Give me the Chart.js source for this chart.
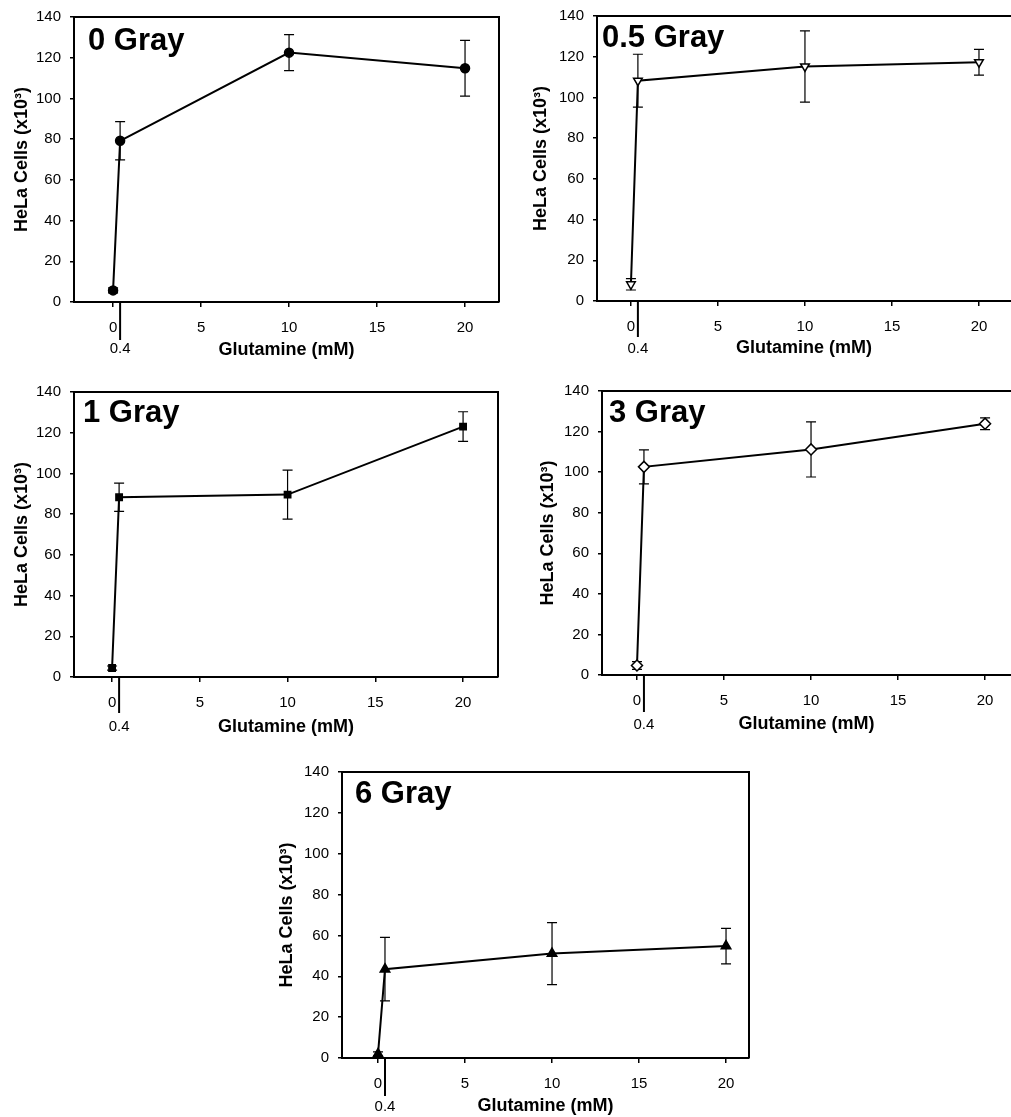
<!DOCTYPE html>
<html>
<head>
<meta charset="utf-8">
<script src="https://cdn.jsdelivr.net/npm/chart.js@4.4.1/dist/chart.umd.min.js"></script>
<style>
  html, body { margin: 0; padding: 0; background: #fff; }
  body { width: 1011px; height: 1117px; position: relative; overflow: hidden; }
  canvas { position: absolute; }
</style>
</head>
<body>
<canvas id="c1"></canvas>
<canvas id="c2"></canvas>
<canvas id="c3"></canvas>
<canvas id="c4"></canvas>
<canvas id="c5"></canvas>
<script>
// ---- data ----
const glutamine = [0, 0.4, 10, 20];
const xTickValues = [0, 5, 10, 15, 20];
const yTickValues = [0, 20, 40, 60, 80, 100, 120, 140];
const panelTitles = ['0 Gray', '0.5 Gray', '1 Gray', '3 Gray', '6 Gray'];
const xAxisTitle = 'Glutamine (mM)';
const yAxisTitle = 'HeLa Cells (x10³)';
const extraTickLabel = '0.4';

const gray0 = [5.7, 79.2, 122.5, 114.8];
const gray0Err = [1.2, 9.4, 8.8, 13.7];
const gray05 = [8.2, 108.2, 115.2, 117.3];
const gray05Err = [2.8, 13.0, 17.5, 6.3];
const gray1 = [4.4, 88.3, 89.6, 123.0];
const gray1Err = [1.0, 6.9, 12.0, 7.3];
const gray3 = [4.7, 102.6, 111.2, 123.9];
const gray3Err = [1.9, 8.4, 13.6, 2.9];
const gray6 = [2.0, 43.5, 51.1, 54.8];
const gray6Err = [1.0, 15.5, 15.2, 8.7];

Chart.defaults.font.family = '"Liberation Sans", Arial, Helvetica, sans-serif';
Chart.defaults.color = '#000';

const extrasPlugin = {
  id: 'panelExtras',
  beforeDatasetsDraw(chart, args, o) {
    const {ctx, scales: {x, y}} = chart;
    const ds = chart.data.datasets[0];
    ctx.save();
    ctx.strokeStyle = '#000';
    ctx.lineWidth = 1.2;
    ds.data.forEach((p, i) => {
      const e = o.errors[i];
      const px = x.getPixelForValue(p.x);
      const t = y.getPixelForValue(p.y + e);
      const b = y.getPixelForValue(p.y - e);
      ctx.beginPath();
      ctx.moveTo(px, t); ctx.lineTo(px, b);
      ctx.moveTo(px - 5, t); ctx.lineTo(px + 5, t);
      ctx.moveTo(px - 5, b); ctx.lineTo(px + 5, b);
      ctx.stroke();
    });
    ctx.restore();
  },
  afterDraw(chart, args, o) {
    const {ctx, chartArea: a, scales: {x}} = chart;
    ctx.save();
    ctx.strokeStyle = '#000';
    ctx.lineWidth = 2;
    ctx.beginPath();
    ctx.moveTo(a.left - 1, a.top);
    ctx.lineTo(a.right, a.top);
    if (!o.openRight) ctx.lineTo(a.right, a.bottom);
    ctx.stroke();
    // extra 0.4 marker
    const px = x.getPixelForValue(0.4);
    ctx.beginPath();
    ctx.moveTo(px, a.bottom);
    ctx.lineTo(px, a.bottom + o.extraLen);
    ctx.stroke();
    ctx.fillStyle = '#000';
    ctx.font = '15px "Liberation Sans", Arial, sans-serif';
    ctx.textAlign = 'center';
    ctx.textBaseline = 'middle';
    ctx.fillText(extraTickLabel, px, a.bottom + o.extraLabelDy);
    // panel title
    ctx.font = 'bold 31px "Liberation Sans", Arial, sans-serif';
    ctx.textAlign = 'left';
    ctx.textBaseline = 'alphabetic';
    ctx.fillText(o.title, a.left + o.titleDx, a.top + o.titleDy);
    ctx.restore();
  }
};

function makePanel(id, p) {
  const cv = document.getElementById(id);
  cv.width = p.canvas.w; cv.height = p.canvas.h;
  cv.style.left = p.canvas.l + 'px'; cv.style.top = p.canvas.t + 'px';
  cv.style.width = p.canvas.w + 'px'; cv.style.height = p.canvas.h + 'px';
  const yScaleW = p.area.l - p.canvas.l;
  const xScaleH = p.canvas.t + p.canvas.h - p.area.b;
  const yTitlePad = Math.max(0, p.yTitleX - p.canvas.l - 10.8);
  const xTitlePad = Math.max(0, p.canvas.t + p.canvas.h - p.xTitleY - 10.8);
  new Chart(cv, {
    type: 'scatter',
    data: {
      datasets: [{
        data: glutamine.map((g, i) => ({x: g, y: p.values[i]})),
        showLine: true,
        borderColor: '#000',
        borderWidth: 2,
        tension: 0,
        pointStyle: p.pointStyle,
        pointRotation: p.rotation || 0,
        pointRadius: p.radius,
        pointBackgroundColor: p.fill,
        pointBorderColor: '#000',
        pointBorderWidth: 1.5,
        clip: false
      }]
    },
    options: {
      responsive: false,
      animation: false,
      devicePixelRatio: 1,
      layout: {
        autoPadding: false,
        padding: { left: 0, bottom: 0, top: p.area.t - p.canvas.t, right: p.canvas.l + p.canvas.w - p.area.r }
      },
      plugins: {
        legend: { display: false },
        tooltip: { enabled: false },
        panelExtras: {
          errors: p.errors, openRight: p.openRight, title: p.title,
          titleDx: p.titleDx, titleDy: p.titleDy,
          extraLen: p.extraEnd - p.area.b, extraLabelDy: p.extraLabelY - p.area.b
        }
      },
      scales: {
        x: {
          type: 'linear', min: p.xmin, max: p.xmax,
          afterBuildTicks: s => { s.ticks = xTickValues.map(v => ({value: v})); },
          afterFit: s => { s.height = xScaleH; s.paddingLeft = 0; s.paddingRight = 0; },
          grid: { drawOnChartArea: false, drawTicks: true, tickLength: 5, color: '#000', lineWidth: 1.5 },
          border: { display: true, color: '#000', width: 2 },
          ticks: { font: { size: 15 }, padding: 12, maxRotation: 0, color: '#000' },
          title: { display: true, text: xAxisTitle, font: { size: 18, weight: 'bold' }, padding: { top: 0, bottom: xTitlePad }, color: '#000' }
        },
        y: {
          type: 'linear', min: 0, max: 140,
          afterBuildTicks: s => { s.ticks = yTickValues.map(v => ({value: v})); },
          afterFit: s => { s.width = yScaleW; s.paddingTop = 0; s.paddingBottom = 0; },
          grid: { drawOnChartArea: false, drawTicks: true, tickLength: 4, color: '#000', lineWidth: 1.5 },
          border: { display: true, color: '#000', width: 2 },
          ticks: { font: { size: 15 }, padding: 9, color: '#000' },
          title: { display: true, text: yAxisTitle, font: { size: 18, weight: 'bold' }, padding: { top: yTitlePad, bottom: 0 }, color: '#000' }
        }
      }
    },
    plugins: [extrasPlugin]
  });
}

makePanel('c1', {
  canvas: {l: 0, t: 0, w: 505, h: 368}, area: {l: 74, t: 17, r: 499, b: 302},
  xmin: -2.22, xmax: 21.93, values: gray0, errors: gray0Err, title: panelTitles[0],
  pointStyle: 'circle', radius: 4.5, fill: '#000', openRight: false,
  yTitleX: 22, xTitleY: 350, extraEnd: 340, extraLabelY: 349, titleDx: 14, titleDy: 33
});
makePanel('c2', {
  canvas: {l: 505, t: 0, w: 506, h: 368}, area: {l: 597, t: 16, r: 1011, b: 301},
  xmin: -1.95, xmax: 21.84, values: gray05, errors: gray05Err, title: panelTitles[1],
  pointStyle: 'triangle', rotation: 180, radius: 5, fill: '#fff', openRight: true,
  yTitleX: 541, xTitleY: 348, extraEnd: 337, extraLabelY: 349, titleDx: 5, titleDy: 31
});
makePanel('c3', {
  canvas: {l: 0, t: 370, w: 505, h: 380}, area: {l: 74, t: 392, r: 498, b: 677},
  xmin: -2.17, xmax: 21.99, values: gray1, errors: gray1Err, title: panelTitles[2],
  pointStyle: 'rect', radius: 4.5, fill: '#000', openRight: false,
  yTitleX: 22, xTitleY: 727, extraEnd: 713, extraLabelY: 727, titleDx: 9, titleDy: 30
});
makePanel('c4', {
  canvas: {l: 505, t: 370, w: 506, h: 380}, area: {l: 602, t: 391, r: 1011, b: 675},
  xmin: -2.01, xmax: 21.49, values: gray3, errors: gray3Err, title: panelTitles[3],
  pointStyle: 'rectRot', radius: 5.5, fill: '#fff', openRight: true,
  yTitleX: 548, xTitleY: 724, extraEnd: 712, extraLabelY: 725, titleDx: 7, titleDy: 31
});
makePanel('c5', {
  canvas: {l: 270, t: 755, w: 500, h: 362}, area: {l: 342, t: 772, r: 749, b: 1058},
  xmin: -2.07, xmax: 21.32, values: gray6, errors: gray6Err, title: panelTitles[4],
  pointStyle: 'triangle', radius: 5.5, fill: '#000', openRight: false,
  yTitleX: 287, xTitleY: 1107, extraEnd: 1096, extraLabelY: 1107, titleDx: 13, titleDy: 31
});
</script>
</body>
</html>
